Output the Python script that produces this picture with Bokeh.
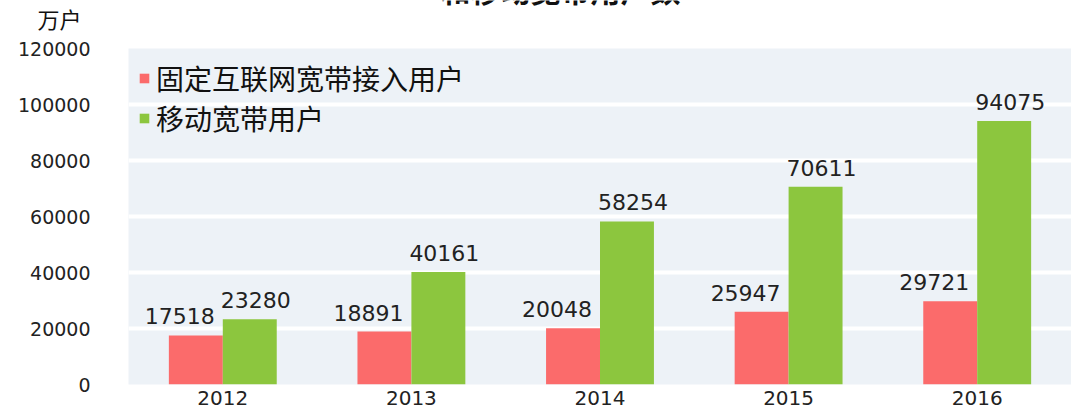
from bokeh.plotting import figure
from bokeh.layouts import column
from bokeh.models import ColumnDataSource, FixedTicker, LabelSet, BasicTickFormatter, Range1d
from bokeh.core.properties import value
from bokeh.transform import dodge
from bokeh.embed import file_html
from bokeh.resources import INLINE

years = ["2012", "2013", "2014", "2015", "2016"]
fixed_broadband = [17518, 18891, 20048, 25947, 29721]
mobile_broadband = [23280, 40161, 58254, 70611, 94075]
series_names = ["固定互联网宽带接入用户", "移动宽带用户"]
y_ticks = [0, 20000, 40000, 60000, 80000, 100000, 120000]
unit_label = "万户"
title_text = "和移动宽带用户数"

RED = "#fb6b6b"
GREEN = "#8cc63e"

W = 1071
HEADER_H = 36

# ---- header strip with the unit label and the (cropped) title ----
head = figure(width=W, height=HEADER_H, output_backend="svg", toolbar_location=None,
              x_range=Range1d(0, W), y_range=Range1d(0, HEADER_H),
              min_border=0, outline_line_color=None)
head.frame_align = False
head.axis.visible = False
head.grid.visible = False
head.background_fill_color = "white"
head.border_fill_color = "white"
head.text(x=[59], y=[19], text=[unit_label], text_font=value("Noto Sans CJK SC"),
          text_font_size="22px", text_align="center", text_baseline="middle",
          text_color="#111111")
head.text(x=[560], y=[26], text=[title_text], text_font=value("Noto Sans CJK SC"),
          text_font_size="30px", text_font_style="bold", text_align="center",
          text_baseline="bottom", text_color="#111111")

# ---- main chart ----
source = ColumnDataSource(dict(
    year=years,
    fixed=fixed_broadband,
    mobile=mobile_broadband,
    fixed_txt=[str(v) for v in fixed_broadband],
    mobile_txt=[str(v) for v in mobile_broadband],
))

p = figure(x_range=years, y_range=Range1d(0, 120000), width=W, height=413 - HEADER_H,
           output_backend="svg", toolbar_location=None,
           min_border_left=128, min_border_right=0, min_border_top=12, min_border_bottom=29)
p.frame_align = False

p.background_fill_color = "#edf2f7"
p.border_fill_color = "white"
p.outline_line_color = None

bw = 0.286
p.vbar(x=dodge("year", -0.143, range=p.x_range), top="fixed", width=bw, source=source,
       fill_color=RED, line_color=None, legend_label=series_names[0])
p.vbar(x=dodge("year", 0.143, range=p.x_range), top="mobile", width=bw, source=source,
       fill_color=GREEN, line_color=None, legend_label=series_names[1])

lbl_kw = dict(text_font=value("DejaVu Sans"), text_font_size=value("22px"),
              text_color="#222222", text_align="center", text_baseline="alphabetic",
              y_offset=11)
p.add_layout(LabelSet(x=dodge("year", -0.143, range=p.x_range), y="fixed", text="fixed_txt",
                      source=source, x_offset=-16, **lbl_kw))
p.add_layout(LabelSet(x=dodge("year", 0.143, range=p.x_range), y="mobile", text="mobile_txt",
                      source=source, x_offset=6, **lbl_kw))

# axes
p.yaxis.ticker = FixedTicker(ticks=y_ticks)
p.yaxis.formatter = BasicTickFormatter(use_scientific=False)
for ax in (p.xaxis, p.yaxis):
    ax.axis_line_color = None
    ax.major_tick_line_color = None
    ax.minor_tick_line_color = None
    ax.major_tick_out = 0
    ax.major_tick_in = 0
    ax.major_label_text_font = "DejaVu Sans"
    ax.major_label_text_color = "#222222"
p.yaxis.major_label_text_font_size = "19px"
p.yaxis.major_label_standoff = 38
p.xaxis.major_label_text_font_size = "20px"
p.xaxis.major_label_standoff = 6

p.xgrid.grid_line_color = None
p.ygrid.ticker = FixedTicker(ticks=y_ticks)
p.ygrid.grid_line_color = "white"
p.ygrid.grid_line_width = 4

# legend
p.legend.location = "top_left"
p.legend.background_fill_alpha = 0
p.legend.border_line_color = None
p.legend.margin = 10
p.legend.padding = 2
p.legend.spacing = -5
p.legend.glyph_width = 12
p.legend.glyph_height = 12
p.legend.label_standoff = 6
p.legend.label_text_font = "Noto Sans CJK SC"
p.legend.label_text_font_size = "28px"
p.legend.label_text_color = "#111111"

layout = column(head, p, spacing=0)
open("out.html", "w").write(file_html(layout, INLINE))
